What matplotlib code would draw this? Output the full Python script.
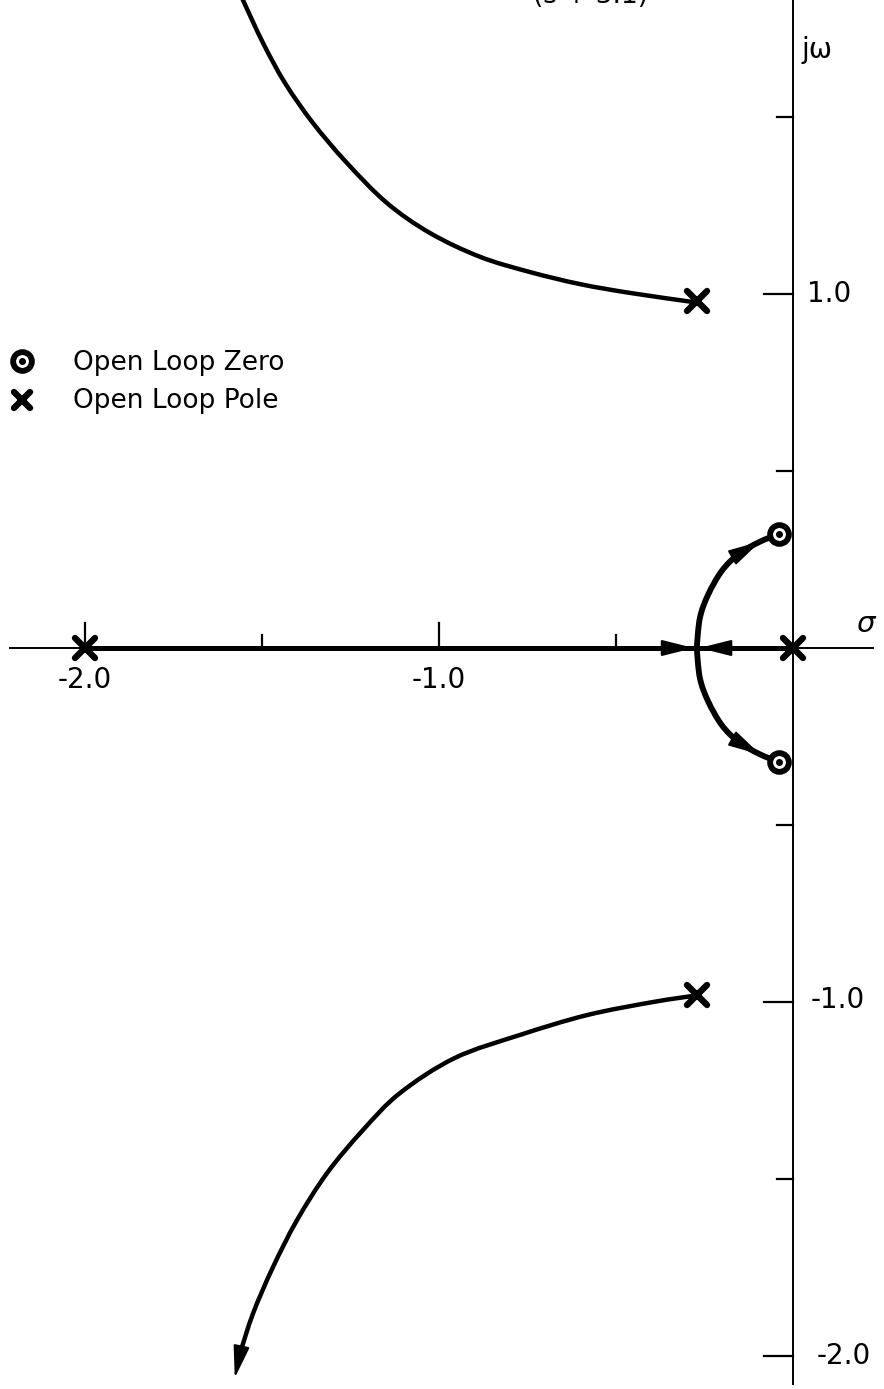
import numpy as np
import matplotlib
matplotlib.use("Agg")
import matplotlib.pyplot as plt
from matplotlib.markers import MarkerStyle
from matplotlib.patches import FancyArrowPatch, PathPatch
from matplotlib.path import Path

# open loop poles and zeros
poles_re = [-2.0, 0.0, -0.27, -0.27]
poles_im = [0.0, 0.0, 0.98, -0.98]
zeros_re = [-0.04, -0.04]
zeros_im = [0.322, -0.322]

# locus branches (sigma, omega)
upper_re = [-0.28, -0.46, -0.602, -0.743, -0.884, -1.025, -1.147, -1.26, -1.356, -1.435, -1.497, -1.554, -1.57]
upper_im = [0.977, 1.003, 1.028, 1.062, 1.105, 1.172, 1.257, 1.37, 1.483, 1.596, 1.709, 1.831, 1.87]
lower_re = [-0.263, -0.395, -0.582, -0.771, -0.955, -1.11, -1.215, -1.316, -1.401, -1.469, -1.525, -1.562]
lower_im = [-0.98, -1.0, -1.037, -1.093, -1.158, -1.257, -1.362, -1.483, -1.616, -1.749, -1.879, -1.992]
arc_re = [-0.272, -0.263, -0.24, -0.201, -0.153, -0.096, -0.04]
arc_im = [0.0, 0.085, 0.15, 0.218, 0.266, 0.299, 0.322]
real_seg = [-2.0, 0.0]

# arrows: (tail, head)
arrows = [
    ((-0.36, 0.0), (-0.28, 0.0)),
    ((-0.18, 0.0), (-0.265, 0.0)),
    ((-0.15, 0.268), (-0.092, 0.301)),
    ((-0.15, -0.268), (-0.092, -0.301)),
    ((-1.562, -1.992), (-1.577, -2.062)),
]

ticks_y_major = [1.0, -1.0, -2.0]
ticks_y_minor = [1.5, 0.5, -0.5, -1.5]
ticks_x_major = [-2.0, -1.0]
ticks_x_minor = [-1.5, -0.5]
xlabels = ["-2.0", "-1.0"]
ylabels = ["1.0", "-1.0", "-2.0"]


def smooth_path(xs, ys):
    # catmull-rom through the points, written as cubic bezier segments
    p = np.column_stack([xs, ys])
    p = np.vstack([p[0], p, p[-1]])
    verts = [p[1]]
    codes = [Path.MOVETO]
    for i in range(1, len(p) - 2):
        c1 = p[i] + (p[i + 1] - p[i - 1]) / 6
        c2 = p[i + 1] - (p[i + 2] - p[i]) / 6
        verts += [c1, c2, p[i + 1]]
        codes += [Path.CURVE4] * 3
    return Path(verts, codes)


fig = plt.figure(figsize=(8.84, 13.89), dpi=100)
ax = fig.add_axes([0, 0, 1, 1])
s = 354.0
ax.set_xlim(-793 / s, (884 - 793) / s)
ax.set_ylim(-(1389 - 648) / s, 648 / s)
ax.axis("off")

k = "black"
# axes
ax.plot([-2.212, 0.226], [0, 0], color=k, lw=1.4)
ax.plot([0, 0], [-2.08, 1.9], color=k, lw=1.4)
for v in ticks_y_major:
    ax.plot([-0.082, 0], [v, v], color=k, lw=1.6)
for v in ticks_y_minor:
    ax.plot([-0.045, 0], [v, v], color=k, lw=1.6)
for v in ticks_x_major:
    ax.plot([v, v], [0, 0.072], color=k, lw=1.6)
for v in ticks_x_minor:
    ax.plot([v, v], [0, 0.037], color=k, lw=1.6)

fs = 20
for v, t in zip(ticks_x_major, xlabels):
    ax.text(v, -0.05, t, ha="center", va="top", fontsize=fs)
ax.text(0.040, 1.0, ylabels[0], ha="left", va="center", fontsize=fs)
ax.text(0.051, -0.994, ylabels[1], ha="left", va="center", fontsize=fs)
ax.text(0.066, -2.0, ylabels[2], ha="left", va="center", fontsize=fs)
ax.text(0.025, 1.69, "j\u03c9", ha="left", va="center", fontsize=20)
ax.text(0.205, 0.068, "\u03c3", ha="center", va="center", fontsize=21, style="italic")
ax.text(-0.573, 1.822, "(s + 3.1)", ha="center", va="baseline", fontsize=19)

# locus
ax.plot(real_seg, [0, 0], color=k, lw=3.6, solid_capstyle="butt")
for xs, ys, w in [(upper_re, upper_im, 3.2), (lower_re, lower_im, 3.2),
                  (arc_re, arc_im, 4.2), (arc_re, [-v for v in arc_im], 4.2)]:
    ax.add_patch(PathPatch(smooth_path(xs, ys), fill=False, ec=k, lw=w, capstyle="round"))

for tail, head in arrows:
    ax.add_patch(FancyArrowPatch(tail, head, arrowstyle="-|>,head_length=1.0,head_width=0.25",
                                 mutation_scale=20, color=k, lw=1.5, shrinkA=0, shrinkB=0))

xm = MarkerStyle("x", capstyle="round")
ax.plot(poles_re, poles_im, ls="none", marker=xm, ms=14, mew=4.6, color=k, zorder=5)
ax.plot(zeros_re, zeros_im, ls="none", marker="o", ms=13.5, mew=4.2, mfc="white", mec=k, zorder=5)
ax.plot(zeros_re, zeros_im, ls="none", marker="o", ms=4, color=k, zorder=6)

# legend
ax.plot([-2.178], [0.811], marker="o", ms=13.5, mew=4.2, mfc="white", mec=k)
ax.plot([-2.178], [0.811], marker="o", ms=4, color=k)
ax.plot([-2.178], [0.701], marker=xm, ms=12, mew=4.6, color=k)
ax.text(-2.034, 0.785, "Open Loop Zero", ha="left", va="baseline", fontsize=19)
ax.text(-2.034, 0.678, "Open Loop Pole", ha="left", va="baseline", fontsize=19)

fig.savefig("out.png", dpi=100)
